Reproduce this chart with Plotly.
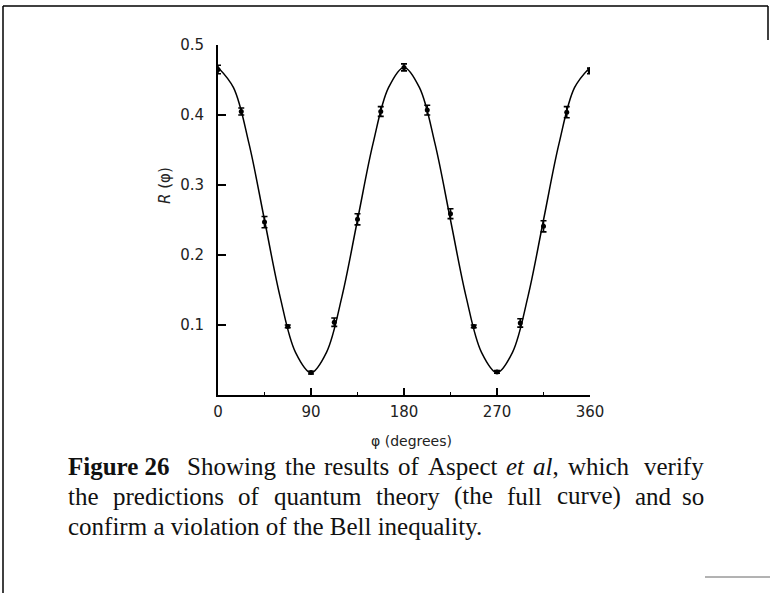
import plotly.graph_objects as go

# Measured coincidence rate R(phi) versus polariser angle (Aspect et al)
phi_deg = [0, 22.5, 45, 67.5, 90, 112.5, 135, 157.5, 180,
           202.5, 225, 247.5, 270, 292.5, 315, 337.5, 360]
r_meas = [0.465, 0.405, 0.247, 0.098, 0.032, 0.104, 0.251, 0.405, 0.468,
          0.407, 0.259, 0.098, 0.033, 0.103, 0.241, 0.404, 0.463]
r_err = [0.006, 0.005, 0.008, 0.002, 0.002, 0.006, 0.008, 0.007, 0.005,
         0.007, 0.007, 0.002, 0.002, 0.006, 0.008, 0.008, 0.004]

# Quantum-theory prediction (the full curve), sampled every 15 degrees
curve_phi = [0, 15, 30, 45, 60, 75, 90, 105, 120, 135, 150, 165, 180,
             195, 210, 225, 240, 255, 270, 285, 300, 315, 330, 345, 360]
curve_r = [0.468, 0.439, 0.359, 0.250, 0.141, 0.061, 0.032, 0.061, 0.141,
           0.250, 0.359, 0.439, 0.468, 0.439, 0.359, 0.250, 0.141, 0.061,
           0.032, 0.061, 0.141, 0.250, 0.359, 0.439, 0.468]

x_ticks = [0, 90, 180, 270, 360]
y_ticks = [0.1, 0.2, 0.3, 0.4, 0.5]
y_tick_text = ["0.1", "0.2", "0.3", "0.4", "0.5"]

# Caption, set justified: (word, left edge in px; None = flush right)
caption_words = [
    [("<b>Figure 26</b>", 66), ("Showing", 185), ("the", 283), ("results", 322),
     ("of", 396), ("Aspect", 426), ("<i>et</i>", 504), ("<i>al</i>,", 531),
     ("which", 566), ("verify", None)],
    [("the", 66), ("predictions", 111), ("of", 236), ("quantum", 272),
     ("theory", 374), ("(the", 452), ("full", 505), ("curve)", 555),
     ("and", 633), ("so", None)],
    [("confirm a violation of the Bell inequality.", 66)],
]
caption_y = [466, 496, 526]

W, H = 770, 593
L, R, T, B = 218, 180, 45, 198
PW, PH = W - L - R, H - T - B
TEXT_RIGHT = 706


def px(x):
    return (x - L) / PW


def py(y):
    return (H - B - y) / PH


TICK_FONT = dict(family="DejaVu Sans", size=15, color="#222")
SERIF = dict(family="Liberation Serif", size=25, color="#111")

fig = go.Figure()
fig.add_trace(go.Scatter(
    x=curve_phi, y=curve_r, mode="lines",
    line=dict(color="black", width=1.5, shape="spline", smoothing=1.0),
    hoverinfo="skip", showlegend=False))
fig.add_trace(go.Scatter(
    x=phi_deg, y=r_meas, mode="markers",
    marker=dict(color="black", size=5),
    error_y=dict(type="data", array=r_err, color="black",
                 thickness=1.6, width=3),
    showlegend=False))

fig.update_xaxes(
    range=[0, 360], tickvals=x_ticks, ticks="inside", ticklen=7,
    tickwidth=1.5, tickcolor="black", showline=True, linecolor="black",
    linewidth=2, showgrid=False, zeroline=False, tickfont=TICK_FONT,
    ticklabelstandoff=2,
    minor=dict(tickvals=[45, 135, 225, 315], ticks="inside", ticklen=3,
               tickcolor="black", tickwidth=1))
fig.update_yaxes(
    range=[0, 0.5], tickvals=y_ticks, ticktext=y_tick_text,
    ticks="inside", ticklen=8, tickwidth=1.5, tickcolor="black",
    showline=True, linecolor="black", linewidth=2, showgrid=False,
    zeroline=False, tickfont=TICK_FONT, ticklabelstandoff=9)

annotations = [
    dict(x=px(411), y=py(441), text="φ (degrees)", xanchor="center",
         font=dict(family="DejaVu Sans", size=14, color="#222")),
    dict(x=px(165), y=py(186), text="<i>R</i> (φ)", textangle=-90,
         xanchor="center",
         font=dict(family="DejaVu Sans", size=15, color="#222")),
]

for words, yy in zip(caption_words, caption_y):
    for word, x0 in words:
        if x0 is None:
            annotations.append(dict(x=px(TEXT_RIGHT), y=py(yy), text=word,
                                    xanchor="right", font=SERIF))
        else:
            annotations.append(dict(x=px(x0), y=py(yy), text=word,
                                    xanchor="left", font=SERIF))

for a in annotations:
    a.update(xref="paper", yref="paper", yanchor="middle", showarrow=False)

frame = dict(color="black", width=1.5)
shapes = [
    dict(type="line", xref="paper", yref="paper", x0=px(3), x1=px(768),
         y0=py(6), y1=py(6), line=frame),
    dict(type="line", xref="paper", yref="paper", x0=px(3), x1=px(3),
         y0=py(6), y1=py(593), line=frame),
    dict(type="line", xref="paper", yref="paper", x0=px(768), x1=px(768),
         y0=py(6), y1=py(40), line=frame),
    dict(type="line", xref="paper", yref="paper", x0=px(705), x1=px(770),
         y0=py(577), y1=py(577), line=dict(color="#666", width=1)),
]

fig.update_layout(
    width=W, height=H, margin=dict(l=L, r=R, t=T, b=B),
    paper_bgcolor="white", plot_bgcolor="white",
    annotations=annotations, shapes=shapes, showlegend=False)

fig.write_html("out.html")
